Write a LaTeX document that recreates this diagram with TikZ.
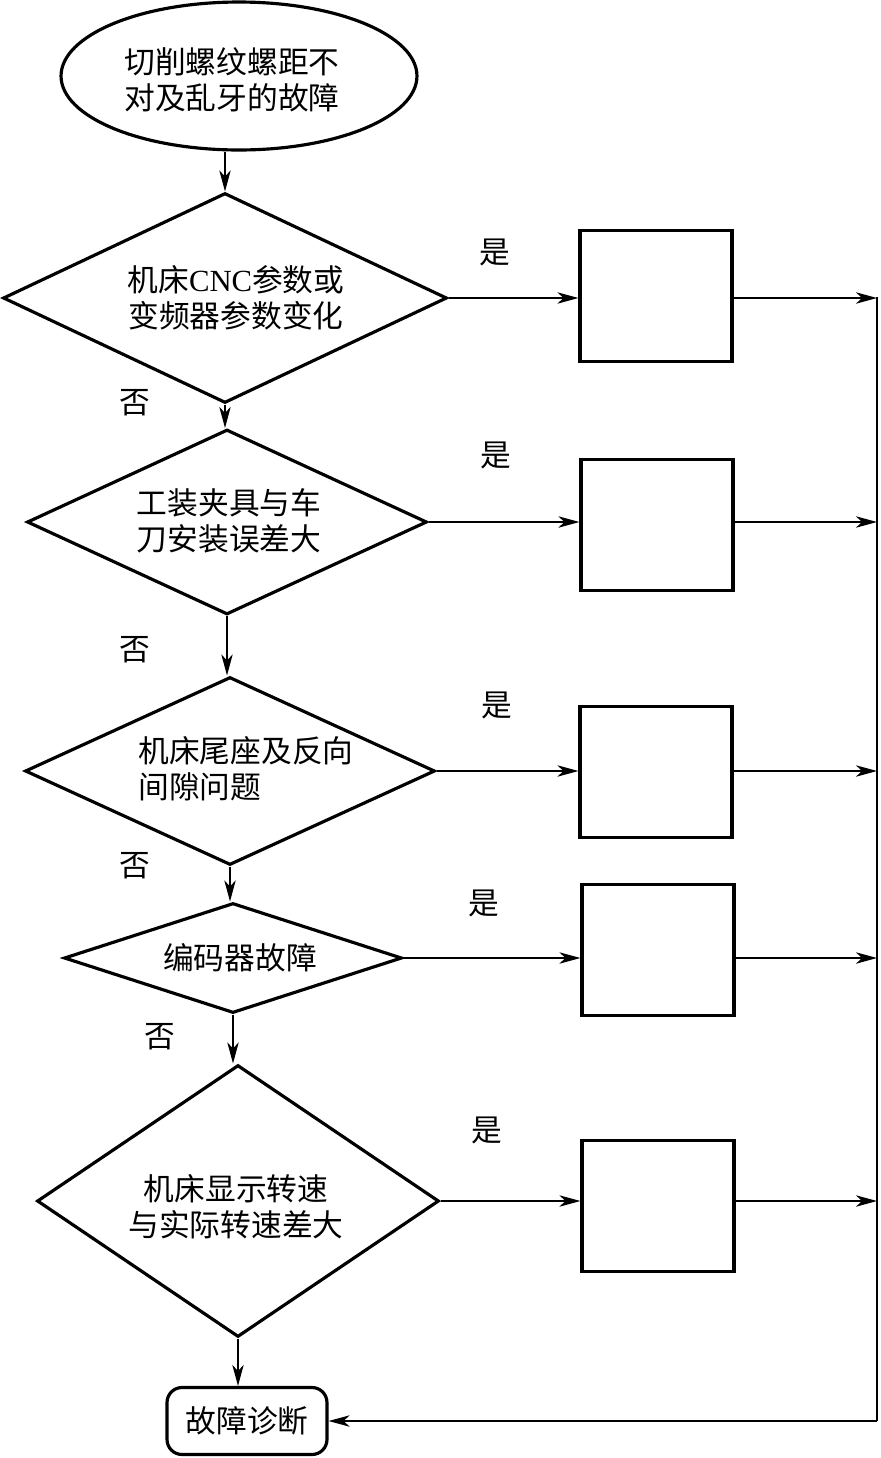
\documentclass[tikz,border=0pt]{standalone}
\usepackage{fontspec}
\setmainfont{Noto Sans CJK SC}
\newfontfamily\latin{Liberation Serif}
\usetikzlibrary{shapes.geometric,arrows.meta}

\begin{document}
\begin{tikzpicture}[x=0.02cm,y=-0.02cm,
    font=\fontsize{17.5}{20.5}\selectfont,
    startstop/.style={draw,ellipse,line width=1.8pt,minimum width=7.12cm,minimum height=2.96cm},
    decision/.style={draw,diamond,line width=1.8pt,inner sep=0pt},
    result/.style={draw,rectangle,line width=1.8pt,minimum width=3.04cm,minimum height=2.62cm},
    finish/.style={draw,rectangle,rounded corners=0.3cm,line width=1.8pt,minimum width=3.2cm,minimum height=1.34cm},
    txt/.style={align=center,inner sep=0pt},
    conn/.style={line width=0.8pt},
    arr/.style={conn,-{Stealth[length=12pt,width=6.5pt,inset=3.5pt]}}]
    \useasboundingbox (0,0) rectangle (880,1458);
    % Shapes
        \node[startstop] (start) at (239,76) {};
        \node[txt] (t0) at (232,80) {切削螺纹螺距不\\对及乱牙的故障};
        \node[decision,minimum width=8.88cm,minimum height=4.2cm] (d1) at (225,298) {};
        \node[decision,minimum width=8cm,minimum height=3.7cm] (d2) at (227,522) {};
        \node[decision,minimum width=8.2cm,minimum height=3.76cm] (d3) at (230,771) {};
        \node[decision,minimum width=6.76cm,minimum height=2.2cm] (d4) at (233,958) {};
        \node[decision,minimum width=8.04cm,minimum height=5.44cm] (d5) at (238,1201) {};
        \node[txt] (t1) at (236,298) {机床{\latin CNC}参数或\\变频器参数变化};
        \node[txt] (t2) at (229,521) {工装夹具与车\\刀安装误差大};
        \node[txt,align=left,anchor=west] (t3) at (138,769) {机床尾座及反向\\间隙问题};
        \node[txt] (t4) at (240,958) {编码器故障};
        \node[txt] (t5) at (236,1207) {机床显示转速\\与实际转速差大};
        \node[result] (b1) at (656,296) {};
        \node[result] (b2) at (657,525) {};
        \node[result] (b3) at (656,772) {};
        \node[result] (b4) at (658,950) {};
        \node[result] (b5) at (658,1206) {};
        \node[finish] (fin) at (247,1421) {故障诊断};
        \coordinate (rtop) at (877,297);
        \coordinate (rbot) at (fin.east -| rtop);
    % Connectors
        \draw[arr] (start.south -| d1.north) -- (d1.north);
        \draw[arr] (d1.south) -- (d1.south |- d2.north);
        \draw[arr] (d2.south) -- (d2.south |- d3.north);
        \draw[arr] (d3.south) -- (d3.south |- d4.north);
        \draw[arr] (d4.south) -- (d4.south |- d5.north);
        \draw[arr] (d5.south) -- (d5.south |- fin.north);
        \foreach \i in {1,...,5}{
            \draw[arr] (d\i.east) -- (d\i.east -| b\i.west);
            \draw[arr] (d\i.east -| b\i.east) -- (d\i.east -| rtop);
        }
        \draw[conn] (rtop) -- (rbot);
        \draw[arr] (rbot) -- (fin.east);
    % Labels
        \node (y1) at (495,252) {是};
        \node (y2) at (496,455) {是};
        \node (y3) at (497,705) {是};
        \node (y4) at (484,903) {是};
        \node (y5) at (487,1130) {是};
        \node (n1) at (135,403) {否};
        \node (n2) at (135,650) {否};
        \node (n3) at (135,866) {否};
        \node (n4) at (160,1037) {否};
\end{tikzpicture}
\end{document}
